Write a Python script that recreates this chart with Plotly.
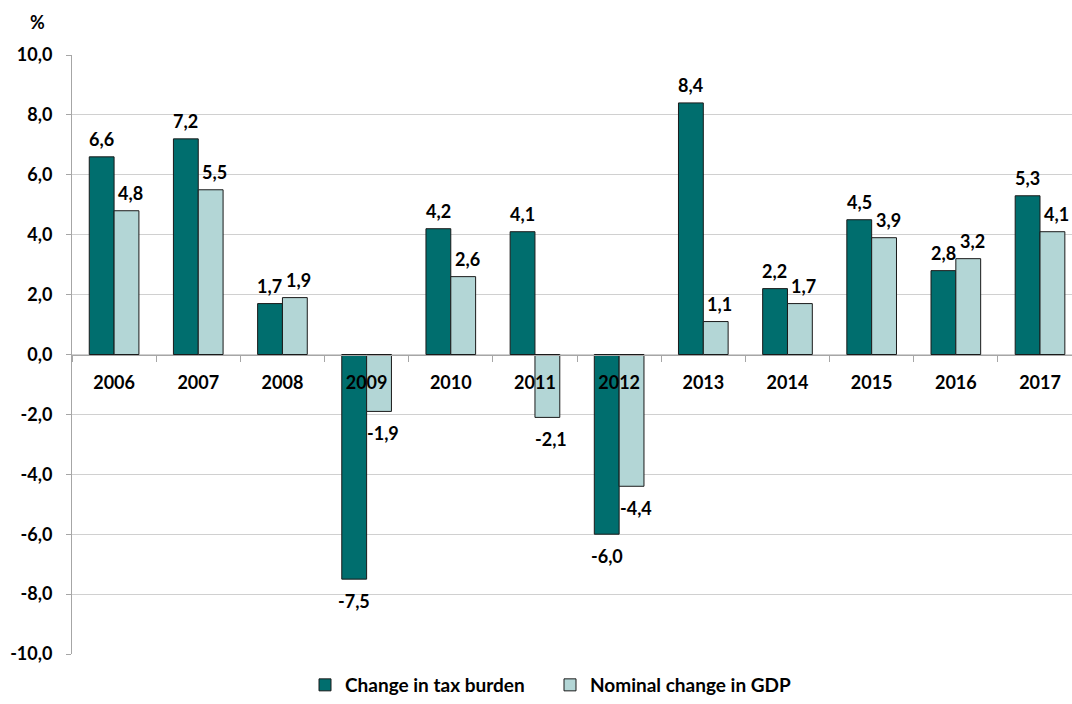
import plotly.graph_objects as go

years = ["2006", "2007", "2008", "2009", "2010", "2011", "2012", "2013", "2014", "2015", "2016", "2017"]
tax_burden = [6.6, 7.2, 1.7, -7.5, 4.2, 4.1, -6.0, 8.4, 2.2, 4.5, 2.8, 5.3]
gdp_nominal = [4.8, 5.5, 1.9, -1.9, 2.6, -2.1, -4.4, 1.1, 1.7, 3.9, 3.2, 4.1]
y_tick_values = [-10, -8, -6, -4, -2, 0, 2, 4, 6, 8, 10]
y_tick_labels = ["-10,0", "-8,0", "-6,0", "-4,0", "-2,0", "0,0", "2,0", "4,0", "6,0", "8,0", "10,0"]

FONT = "Lato"
FS = 18
fmt = lambda v: f"{v:.1f}".replace(".", ",")

fig = go.Figure()
fig.add_trace(go.Bar(
    x=years, y=tax_burden, name="Change in tax burden",
    marker=dict(color="#006E6E", line=dict(color="#1a1a1a", width=1)),
))
fig.add_trace(go.Bar(
    x=years, y=gdp_nominal, name="Nominal change in GDP",
    marker=dict(color="#B3D6D6", line=dict(color="#1a1a1a", width=1)),
))

annotations = []
for series, xs in ((tax_burden, -12.5), (gdp_nominal, 16.5)):
    for i, v in enumerate(series):
        annotations.append(dict(
            x=i, y=v, xref="x", yref="y", text=fmt(v), showarrow=False,
            xanchor="center", yanchor="middle", xshift=xs,
            yshift=18 if v >= 0 else -22,
            font=dict(family=FONT, size=FS, color="black", weight="bold"),
        ))
annotations.append(dict(text="%", xref="paper", yref="paper", x=-0.035, y=1.055,
                        xanchor="center", yanchor="middle", showarrow=False,
                        font=dict(family=FONT, size=18, weight="bold")))

fig.update_layout(
    width=1072, height=704,
    margin=dict(l=72, r=0, t=55, b=47),
    paper_bgcolor="white", plot_bgcolor="white",
    barmode="group", bargap=0.41, bargroupgap=0,
    font=dict(family=FONT, size=FS, color="black", weight="bold"),
    legend=dict(orientation="h", x=0.478, xanchor="center", y=-0.052, yanchor="middle",
                font=dict(family=FONT, size=19, weight="bold"), itemwidth=30, tracegroupgap=0,
                entrywidth=200, entrywidthmode="pixels"),
    xaxis=dict(
        type="category", range=[-0.5, 11.38],
        anchor="free", position=0.5,
        showline=True, linecolor="#a6a6a6", linewidth=1,
        ticks="outside", tickson="boundaries", ticklen=6, tickcolor="#a6a6a6",
        ticklabelstandoff=12,
        showgrid=False,
        tickfont=dict(family=FONT, size=FS, weight="bold"),
    ),
    yaxis=dict(
        range=[-10, 10], tickvals=y_tick_values, ticktext=y_tick_labels,
        showline=True, linecolor="#a6a6a6", linewidth=1,
        ticks="outside", ticklen=5, tickcolor="#a6a6a6",
        ticklabelstandoff=10,
        showgrid=True, gridcolor="#d0d0d0", gridwidth=1,
        zeroline=False,
        tickfont=dict(family=FONT, size=FS, weight="bold"),
    ),
    annotations=annotations,
)

fig.write_html("out.html")
